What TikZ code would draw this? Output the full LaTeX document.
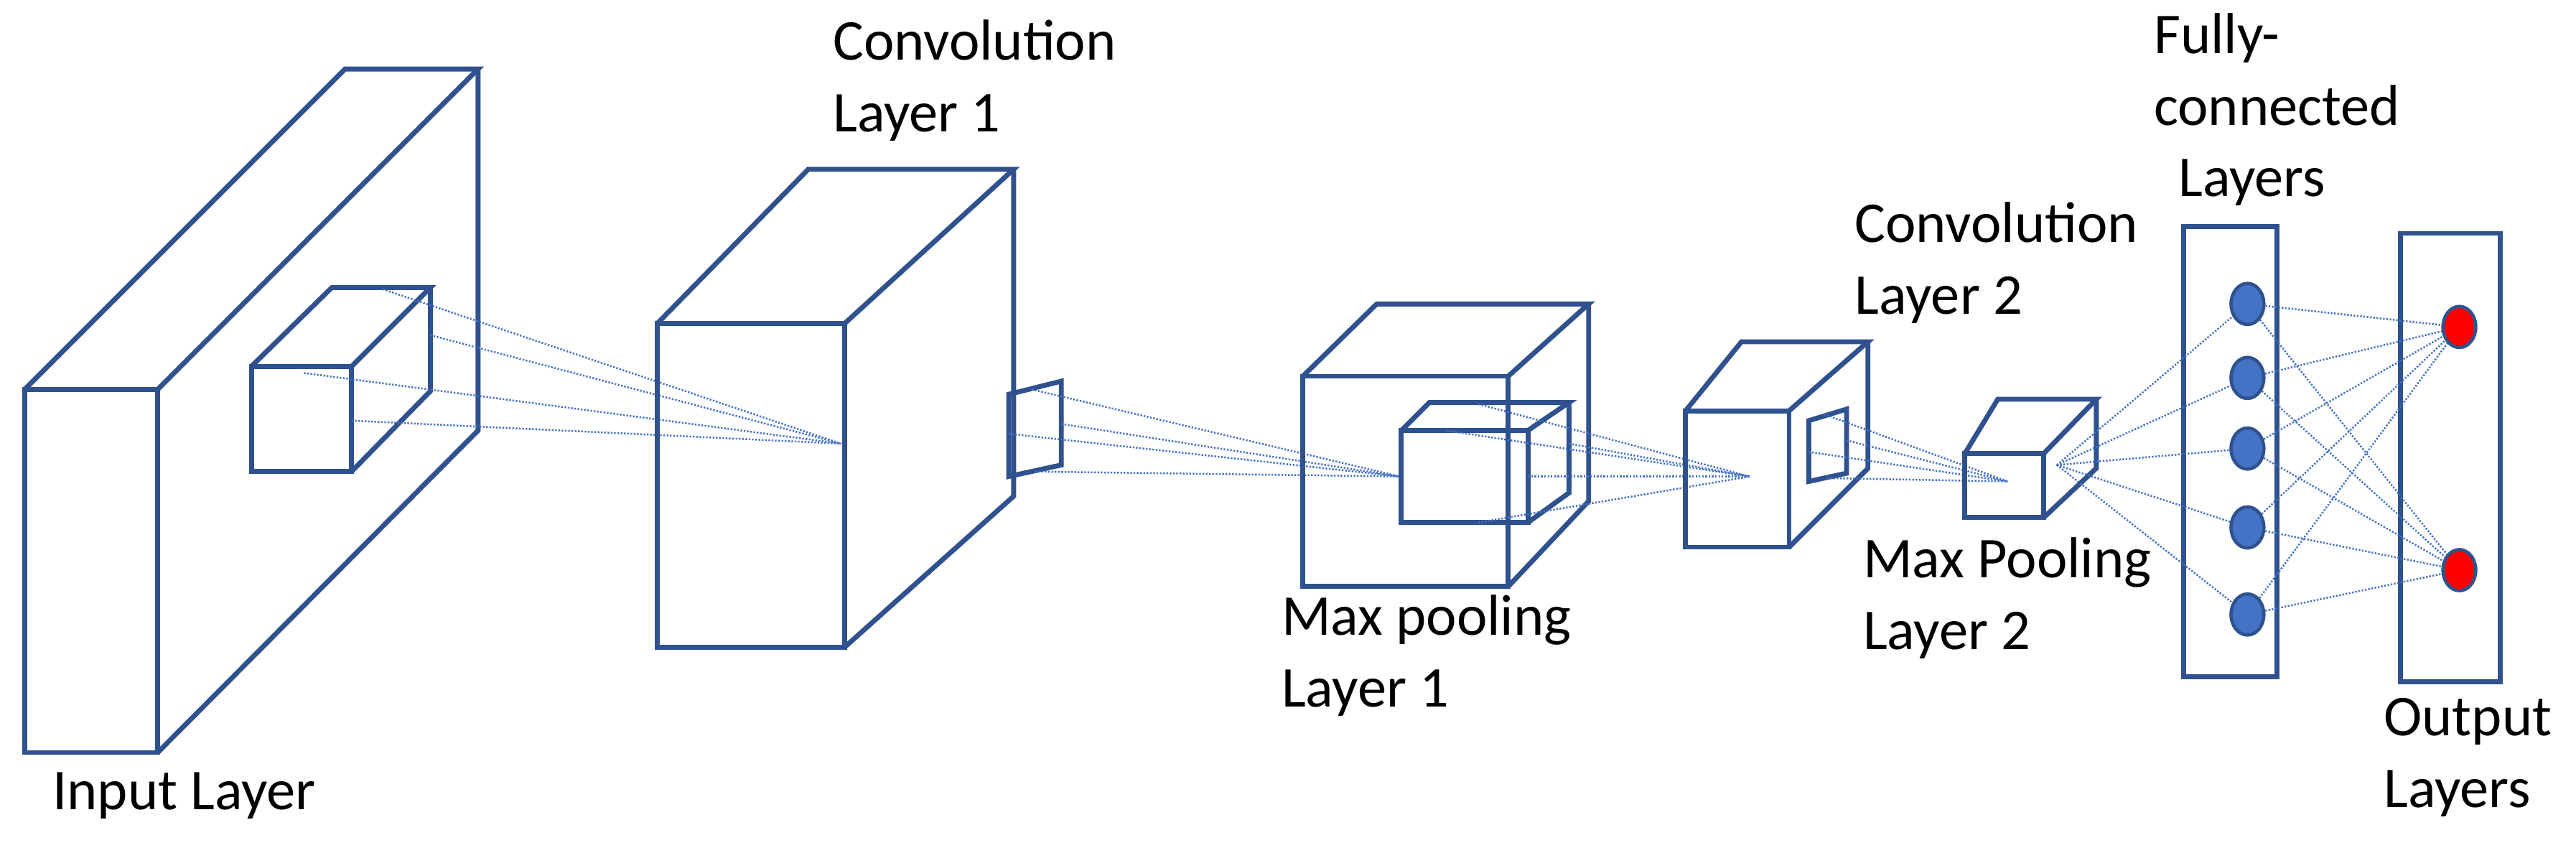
\documentclass[tikz,border=0pt]{standalone}
\usepackage{fontspec}
\usetikzlibrary{shapes.geometric}
\setmainfont{Carlito}
\begin{document}
\begin{tikzpicture}[x=1mm,y=-1mm,
  box/.style={draw=boxc,line width=3mm,line join=miter},
  dl/.style={draw=dotc,line width=1.1mm,dash pattern=on 1mm off 1mm},
  lbl/.style={anchor=north west,align=left,inner sep=0pt,font=\fontsize{100}{124}\selectfont},
  fc/.style={ellipse,draw=boxc,fill=nodec,line width=2mm,minimum width=20mm,minimum height=25mm,inner sep=0pt},
  oc/.style={fc,fill=red}]
\definecolor{boxc}{HTML}{2F528F}
\definecolor{dotc}{HTML}{4472C4}
\definecolor{nodec}{HTML}{4472C4}
\useasboundingbox (0,0) rectangle (1568,516);
% Input layer
\draw[box] (15,237) rectangle (96,458);
\draw[box] (15,237) -- (210,42) -- (291,42) -- (96,237);
\draw[box] (291,42) -- (291,262) -- (96,458);
\draw[box] (153,223) rectangle (214,287);
\draw[box] (153,223) -- (202,175) -- (262,175) -- (214,223);
\draw[box] (262,175) -- (262,238) -- (214,287);
\coordinate (p1) at (512,270);
\coordinate (a1) at (233,176); \coordinate (a2) at (262,204);
\coordinate (a3) at (185,227); \coordinate (a4) at (214,256);
\foreach \s in {a1,a2,a3,a4} \draw[dl] (\s) -- (p1);
% Conv 1
\draw[box] (400,197) rectangle (514,394);
\draw[box] (400,197) -- (492,103) -- (617,103) -- (514,197);
\draw[box] (617,103) -- (617,302) -- (514,394);
\draw[box] (614,240) -- (646,232) -- (646,283) -- (614,290) -- cycle;
\coordinate (p2) at (852,290);
\coordinate (b1) at (628,237); \coordinate (b2) at (646,258);
\coordinate (b3) at (614,264); \coordinate (b4) at (630,287);
\foreach \s in {b1,b2,b3,b4} \draw[dl] (\s) -- (p2);
% Max pool 1
\draw[box] (793,229) rectangle (918,357);
\draw[box] (793,229) -- (838,185) -- (967,185) -- (918,229);
\draw[box] (967,185) -- (967,305) -- (918,357);
\draw[box] (853,262) rectangle (930,318);
\draw[box] (853,262) -- (870,245) -- (955,245) -- (930,262);
\draw[box] (955,245) -- (955,300) -- (930,318);
\coordinate (p3) at (1065,290);
\coordinate (c1) at (900,246); \coordinate (c2) at (955,270);
\coordinate (c3) at (880,262); \coordinate (c4) at (900,318);
\coordinate (c5) at (930,290);
\foreach \s in {c1,c2,c3,c4,c5} \draw[dl] (\s) -- (p3);
% Conv 2
\draw[box] (1026,250) rectangle (1089,333);
\draw[box] (1026,250) -- (1060,208) -- (1137,208) -- (1089,250);
\draw[box] (1137,208) -- (1137,285) -- (1089,333);
\draw[box] (1101,256) -- (1124,249) -- (1124,288) -- (1101,293) -- cycle;
\coordinate (p4) at (1222,293);
\coordinate (d1) at (1110,252); \coordinate (d2) at (1124,268);
\coordinate (d3) at (1101,275); \coordinate (d4) at (1112,291);
\foreach \s in {d1,d2,d3,d4} \draw[dl] (\s) -- (p4);
% Max pool 2
\draw[box] (1196,276) rectangle (1244,315);
\draw[box] (1196,276) -- (1216,243) -- (1276,243) -- (1244,276);
\draw[box] (1276,243) -- (1276,285) -- (1244,315);
\coordinate (q) at (1252,283);
% FC
\draw[box] (1329,138) rectangle (1386,412);
\draw[box] (1461,142) rectangle (1522,415);
\node[fc] (f1) at (1368,185) {};
\node[fc] (f2) at (1368,230) {};
\node[fc] (f3) at (1368,273) {};
\node[fc] (f4) at (1368,321) {};
\node[fc] (f5) at (1368,374) {};
\node[oc] (o1) at (1497,199) {};
\node[oc] (o2) at (1497,347) {};
\foreach \f in {f1,f2,f3,f4,f5} {
  \draw[dl] (q) -- (\f);
  \draw[dl] (\f) -- (o1);
  \draw[dl] (\f) -- (o2);
}
% labels
\node[lbl] (l1) at (32,470) {Input Layer};
\node[lbl] (l2) at (507,12) {Convolution\\Layer 1};
\node[lbl] (l3) at (780,362) {Max pooling\\Layer 1};
\node[lbl] (l4) at (1129,123) {Convolution\\Layer 2};
\node[lbl] (l5) at (1134,327) {Max Pooling\\Layer 2};
\node[lbl] (l6) at (1311,8) {Fully-\\connected\\\hspace*{15mm}Layers};
\node[lbl] (l7) at (1451,425) {Output\\Layers};
\end{tikzpicture}
\end{document}
